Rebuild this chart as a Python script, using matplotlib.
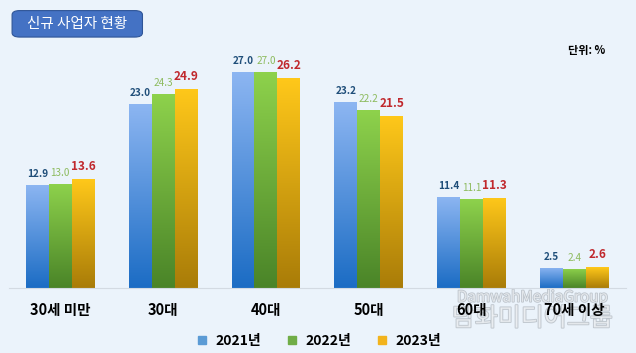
import numpy as np
import matplotlib
matplotlib.use("Agg")
import matplotlib.pyplot as plt
from matplotlib.colors import LinearSegmentedColormap
from matplotlib.patches import FancyBboxPatch
import matplotlib.patheffects as pe

plt.rcParams['font.family'] = ['Noto Sans CJK KR', 'DejaVu Sans']

categories = ['30세 미만', '30대', '40대', '50대', '60대', '70세 이상']
series = ['2021년', '2022년', '2023년']
v2021 = [12.9, 23.0, 27.0, 23.2, 11.4, 2.5]
v2022 = [13.0, 24.3, 27.0, 22.2, 11.1, 2.4]
v2023 = [13.6, 24.9, 26.2, 21.5, 11.3, 2.6]

bg = '#EBF3FB'
grads = [('#8DB6F2', '#1B6CC4'), ('#8ED24C', '#4A8428'), ('#FFC81A', '#A97C08')]
label_colors = ['#1F4E79', '#8DBB5E', '#C0282D']
label_sizes = [7.2, 7.2, 8.5]
label_weights = ['bold', 'normal', 'bold']
legend_colors = ['#5B9BD5', '#70AD47', '#F2B31C']

fig = plt.figure(figsize=(6.36, 3.53), dpi=100, facecolor=bg)
ax = fig.add_axes([0.014, 0.184, 0.970, 0.703])
ax.set_facecolor('none')

x = np.arange(len(categories))
w = 0.223
grad = np.linspace(0, 1, 256).reshape(-1, 1)

for i, vals in enumerate([v2021, v2022, v2023]):
    top, bot = grads[i]
    cmap = LinearSegmentedColormap.from_list('g%d' % i, [bot, top])
    bars = ax.bar(x + (i - 1) * w, vals, w, color='none', edgecolor='none',
                  label=series[i])
    for b, v in zip(bars, vals):
        bx = b.get_x()
        im = ax.imshow(grad, extent=[bx, bx + b.get_width(), 0, v],
                       origin='lower', cmap=cmap, aspect='auto', zorder=2)
        im.set_clip_path(b)
        ax.text(bx + b.get_width() / 2, v + 0.75, '%.1f' % v, ha='center',
                va='bottom', fontsize=label_sizes[i], color=label_colors[i],
                fontweight=label_weights[i])

ax.set_xlim(-0.5, len(categories) - 0.5)
ax.set_ylim(0, 31)
ax.set_yticks([])
ax.set_xticks(x)
ax.set_xticklabels(categories, fontsize=10.5, fontweight='bold')
ax.tick_params(axis='x', length=0, pad=10)
for s in ['top', 'right', 'left']:
    ax.spines[s].set_visible(False)
ax.spines['bottom'].set_color('#D3DAE2')

# legend
handles = [plt.Line2D([], [], marker='s', linestyle='none', markersize=6,
                      color=c) for c in legend_colors]
fig.legend(handles, series, loc='center', bbox_to_anchor=(0.5, 0.035), ncol=3,
           frameon=False, prop={'size': 10, 'weight': 'bold'},
           handletextpad=0.5, columnspacing=1.7, handlelength=1.0)

# title box
box = FancyBboxPatch((0.019, 0.895), 0.205, 0.075, transform=fig.transFigure,
                     boxstyle='round,pad=0.0,rounding_size=0.012',
                     facecolor='#4472C4', edgecolor='#2F5597', linewidth=0.8)
fig.patches.append(box)
fig.text(0.1215, 0.932, '신규 사업자 현황', ha='center', va='center',
         color='white', fontsize=10.5)

fig.text(0.951, 0.858, '단위: %', ha='right', va='center', fontsize=8,
         fontweight='bold')

# watermark, faint, under the axes
wm = [pe.withStroke(linewidth=1.2, foreground='#A9B0B8')]
fig.text(0.837, 0.158, 'DamwahMediaGroup', ha='center', va='center',
         fontsize=11, color='#F4F7FA', path_effects=wm, alpha=0.7, zorder=-1)
fig.text(0.837, 0.097, '담화미디어그룹', ha='center', va='center',
         fontsize=18, color='#F4F7FA', path_effects=wm, alpha=0.7, zorder=-1)

fig.savefig('out.png', dpi=100, facecolor=bg)
